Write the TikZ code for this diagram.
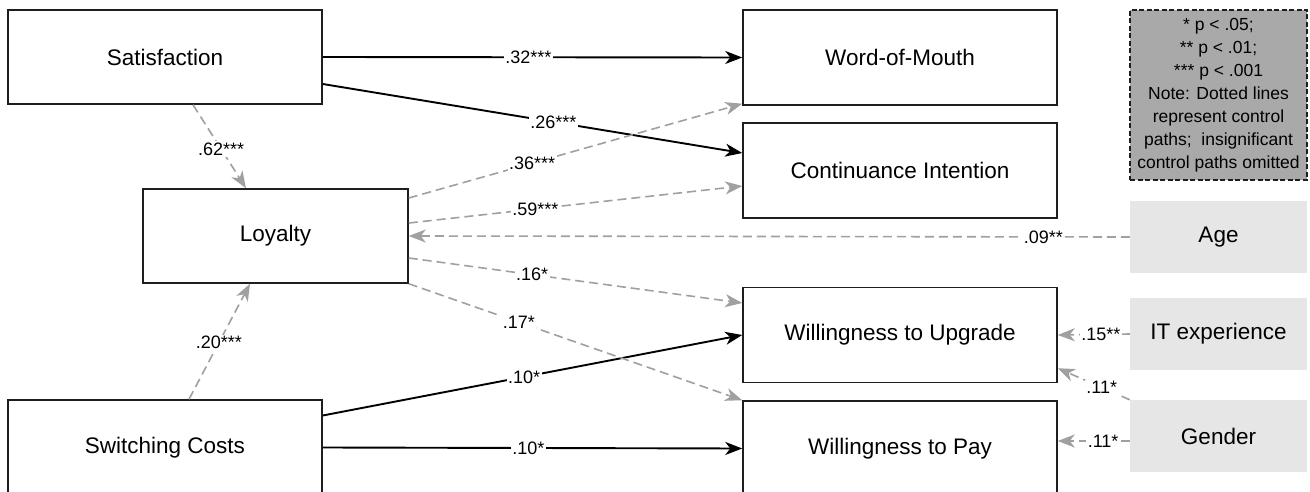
\documentclass[tikz,border=0pt]{standalone}
\usepackage{fontspec}
\setmainfont{Liberation Sans}
\usetikzlibrary{arrows.meta,calc}
\definecolor{pathgray}{HTML}{A0A0A0}
\definecolor{ctrlfill}{HTML}{E6E6E6}
\definecolor{notefill}{HTML}{A9A9A9}
\definecolor{boxline}{HTML}{1E1E1E}

\begin{document}
\begin{tikzpicture}[x=1pt,y=-1pt,
  construct/.style={draw=boxline, line width=1.5pt, fill=white, minimum width=314pt,
    minimum height=95pt, inner sep=0pt, font=\fontsize{22.5}{27}\selectfont},
  control/.style={fill=ctrlfill, minimum width=177pt, minimum height=72pt, inner sep=0pt,
    font=\fontsize{22.5}{27}\selectfont},
  tip/.style={-{Stealth[length=17pt,width=13pt,inset=5pt]}},
  mainpath/.style={draw=black, line width=1.9pt, tip},
  ctrlpath/.style={draw=pathgray, line width=1.6pt, dash pattern=on 9pt off 5pt, tip},
  coef/.style={fill=white, inner sep=1.5pt, text=black, font=\fontsize{18}{21}\selectfont, pos=#1},
  coef/.default=0.5
]
\clip (0,0) rectangle (1310,492);
\fill[white] (0,0) rectangle (1310,492);

% constructs
\node[construct, minimum height=94pt] (sat) at (165,57) {Satisfaction};
\node[construct, minimum width=265pt, minimum height=94pt] (loy) at (275.5,236) {Loyalty};
\node[construct] (sw) at (165,447.5) {Switching Costs};
\node[construct] (wom) at (900,57.5) {Word-of-Mouth};
\node[construct] (ci) at (900,170.5) {Continuance Intention};
\node[construct] (wtu) at (900,335) {Willingness to Upgrade};
\node[construct] (wtp) at (900,448.5) {Willingness to Pay};

% control variables
\node[control] (age) at (1218.5,237) {Age};
\node[control] (itexp) at (1218.5,334) {IT experience};
\node[control] (gender) at (1218.5,436) {Gender};

% significance note
\node[draw=boxline, line width=1.3pt, dash pattern=on 5pt off 2.5pt, fill=notefill,
  minimum width=177pt, minimum height=170pt, inner sep=0pt, align=center,
  font=\fontsize{17.5}{23}\selectfont] (note) at (1218.5,95)
  {* p < .05;\\** p < .01;\\*** p < .001\\Note: Dotted lines\\represent control\\paths;\ \ insignificant\\control paths omitted};

% hypothesised paths
\draw[mainpath] (sat.east) -- node[coef=0.49] {.32***} (wom.west);
\draw[mainpath] ([yshift=-27pt]sat.east) -- node[coef=0.55] {.26***} ([yshift=17.5pt]ci.west);
\draw[mainpath] ([yshift=32pt]sw.east) -- node[coef=0.48] {.10*} (wtu.west);
\draw[mainpath] (sw.east) -- node[coef=0.49] {.10*} (wtp.west);

% mediation and control paths
\draw[ctrlpath] ([xshift=28pt]sat.south) -- node[coef=0.53] {.62***} ([xshift=-29.5pt]loy.north);
\draw[ctrlpath] ([xshift=24pt]sw.north) -- node[coef=0.49] {.20***} ([xshift=-25.5pt]loy.south);
\draw[ctrlpath] ([yshift=38pt]loy.east) -- node[coef=0.37] {.36***} ([yshift=2pt]wom.south west);
\draw[ctrlpath] ([yshift=13pt]loy.east) -- node[coef=0.38] {.59***} ([yshift=-15.5pt]ci.west);
\draw[ctrlpath] ([yshift=-22pt]loy.east) -- node[coef=0.37] {.16*} ([yshift=32pt]wtu.west);
\draw[ctrlpath] (loy.south east) -- node[coef=0.33] {.17*} (wtp.north west);
\draw[ctrlpath] (age.west) -- node[coef=0.12] {.09**} (loy.east);
\draw[ctrlpath] (itexp.west) -- node[coef=0.4] {.15**} (wtu.east);
\draw[ctrlpath] (gender.north west) -- node[coef=0.39] {.11*} ([yshift=15pt]wtu.south east);
\draw[ctrlpath] ([yshift=-5pt]gender.west) -- node[coef=0.37] {.11*} ([yshift=7.5pt]wtp.east);
\end{tikzpicture}
\end{document}
